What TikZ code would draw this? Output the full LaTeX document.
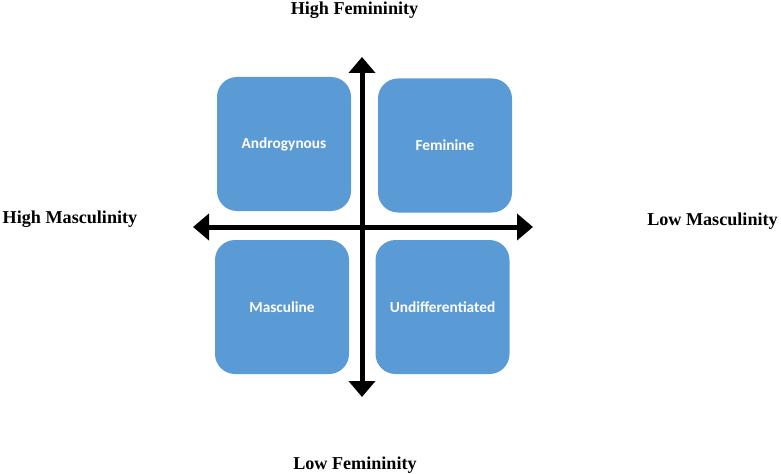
\documentclass[tikz,border=0pt]{standalone}
\usepackage{fontspec}
\setmainfont{Liberation Serif}
\newfontfamily\boxfont{Carlito}
\usetikzlibrary{arrows.meta}
\definecolor{boxblue}{HTML}{5B9BD5}
\tikzset{
  quad/.style={fill=boxblue, draw=none, rounded corners=15pt, minimum width=100.5pt, minimum height=100.5pt, inner sep=0pt, text=white, font=\boxfont\bfseries\fontsize{11.5}{13}\selectfont},
  axislabel/.style={font=\bfseries\fontsize{13.6}{16}\selectfont, inner sep=0pt, anchor=base},
  axis/.style={line width=3.75pt, {Triangle[width=19.5pt,length=12pt]}-{Triangle[width=19.5pt,length=12pt]}}
}
\begin{document}
\begin{tikzpicture}[x=0.75pt,y=-0.75pt]
\useasboundingbox (0,0) rectangle (781,474);
\node[quad] (andro) at (284,144) {Androgynous};
\node[quad] (fem) at (445,145.5) {Feminine};
\node[quad] (masc) at (282,307) {Masculine};
\node[quad] (undiff) at (442.5,307) {Undifferentiated};
\coordinate (vtop) at (362,57);
\coordinate (vbot) at (362,397);
\coordinate (hleft) at (193,227);
\coordinate (hright) at (533,227);
\draw[axis] (hleft) -- (hright);
\draw[axis] (vtop) -- (vbot);
\node[axislabel] (hf) at (354.5,15) {High Femininity};
\node[axislabel] (lf) at (355,469) {Low Femininity};
\node[axislabel] (hm) at (70,223) {High Masculinity};
\node[axislabel] (lm) at (712.5,225) {Low Masculinity};
\end{tikzpicture}
\end{document}
